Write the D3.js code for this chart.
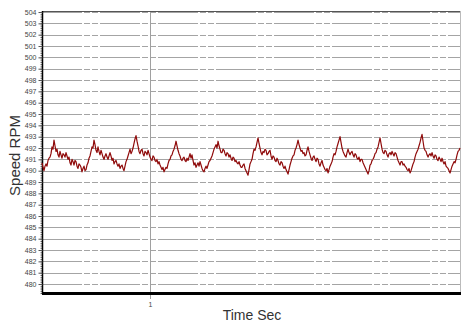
<!DOCTYPE html>
<html>
<head>
<meta charset="utf-8">
<script src="https://cdn.jsdelivr.net/npm/d3@7"></script>
<style>
  html, body { margin: 0; padding: 0; background: #fff; }
  svg { display: block; font-family: "Liberation Sans", Arial, sans-serif; }
</style>
</head>
<body>
<div id="chart"></div>
<script>
// speed samples, one every 1/108 s
const speedRpm = [
  490.7, 490.3, 490.0, 490.4, 490.6, 490.4, 490.9, 491.1, 491.2, 491.5, 492.1, 491.9, 492.7, 492.2, 491.7, 491.9, 491.4, 491.2, 491.7, 491.4,
  491.1, 491.5, 491.4, 491.2, 491.6, 491.3, 491.0, 491.2, 490.7, 490.5, 491.0, 490.8, 490.5, 490.9, 490.8, 490.4, 490.2, 490.6, 490.5, 490.3,
  489.9, 490.2, 490.4, 490.0, 490.1, 490.5, 490.7, 491.1, 491.3, 491.7, 492.1, 492.0, 492.7, 492.3, 491.8, 491.6, 492.1, 491.7, 491.4, 491.8,
  491.5, 491.2, 491.0, 491.3, 491.5, 491.2, 491.0, 491.3, 491.6, 491.3, 490.9, 491.1, 490.6, 490.8, 490.9, 490.6, 490.4, 490.6, 490.2, 490.4,
  490.5, 490.2, 490.0, 490.4, 490.8, 491.0, 491.3, 491.6, 491.9, 491.5, 491.7, 492.0, 492.4, 492.8, 493.1, 492.6, 492.2, 491.7, 491.5, 491.8,
  491.9, 491.5, 491.3, 491.7, 491.6, 491.4, 491.8, 491.5, 491.2, 491.0, 490.9, 491.3, 491.2, 490.9, 490.8, 491.0, 490.6, 490.8, 490.5, 490.3,
  490.1, 490.3, 489.9, 490.1, 490.3, 490.2, 490.6, 490.9, 491.0, 491.3, 491.4, 491.7, 491.9, 492.2, 492.6, 492.2, 491.8, 491.5, 491.3, 491.0,
  490.9, 491.1, 491.2, 490.9, 490.8, 491.1, 490.9, 491.2, 491.5, 491.1, 491.4, 490.9, 490.5, 490.7, 490.3, 490.5, 490.7, 490.4, 490.8, 490.5,
  490.2, 490.0, 489.9, 490.2, 490.4, 490.2, 490.5, 490.8, 490.9, 491.1, 491.3, 491.6, 491.9, 492.1, 492.3, 492.0, 492.6, 492.2, 491.9, 491.6,
  491.6, 491.9, 491.8, 491.5, 491.3, 491.6, 491.5, 491.2, 491.4, 491.1, 490.9, 491.2, 491.1, 490.8, 490.9, 490.7, 490.6, 490.8, 490.5, 490.3,
  490.3, 490.5, 490.6, 490.2, 490.0, 489.8, 489.6, 490.1, 490.6, 490.8, 491.0, 491.5, 491.9, 491.8, 492.1, 492.5, 492.9, 492.4, 492.0, 491.6,
  491.4, 491.7, 491.6, 491.9, 491.8, 491.4, 491.5, 491.7, 491.8, 491.3, 491.0, 491.3, 491.2, 490.9, 490.8, 491.1, 490.9, 490.6, 490.5, 490.8,
  490.7, 490.4, 490.2, 490.4, 490.1, 489.9, 489.7, 490.1, 490.5, 490.8, 491.1, 491.3, 491.4, 491.8, 492.0, 492.3, 492.7, 492.3, 492.0, 491.7,
  491.8, 491.5, 491.6, 491.3, 491.4, 491.8, 492.1, 491.7, 491.4, 491.1, 490.9, 491.2, 491.3, 491.0, 490.8, 491.1, 491.0, 490.6, 490.4, 490.7,
  490.9, 490.5, 490.3, 490.1, 490.0, 490.2, 489.8, 490.1, 490.4, 490.6, 490.8, 491.2, 491.5, 491.4, 491.7, 492.1, 492.4, 492.7, 493.0, 492.5,
  492.0, 491.7, 491.5, 491.3, 491.2, 491.6, 491.9, 491.6, 491.4, 491.6, 491.7, 491.4, 491.2, 491.5, 491.4, 491.1, 491.0, 491.2, 490.8, 491.0,
  491.0, 490.7, 490.5, 490.3, 490.1, 489.9, 489.7, 490.0, 490.5, 490.6, 490.9, 491.0, 491.2, 491.5, 491.6, 491.9, 492.1, 492.5, 492.9, 492.4,
  491.9, 491.6, 491.5, 491.8, 491.7, 491.4, 491.2, 491.5, 491.6, 491.4, 491.7, 491.5, 491.3, 491.6, 491.5, 491.2, 490.9, 490.7, 490.5, 490.8,
  490.8, 490.5, 490.6, 490.4, 490.3, 490.1, 490.0, 490.2, 489.8, 490.0, 490.3, 490.6, 490.8, 491.2, 491.5, 491.7, 491.9, 492.2, 492.5, 492.9,
  493.2, 492.6, 492.0, 491.8, 491.7, 491.4, 491.2, 491.4, 491.5, 491.3, 491.6, 491.3, 491.1, 491.4, 491.3, 491.0, 490.9, 491.2, 491.0, 490.8,
  491.1, 490.8, 490.6, 490.8, 490.4, 490.3, 490.2, 490.0, 489.8, 490.1, 490.4, 490.6, 490.8, 490.7, 491.0, 491.4, 491.7, 491.8, 492.0
];
const sampleInterval = 1 / 108;
const timeRange = [0, 3.87];
const speedRange = [479.12, 504.09];
const speedTicks = d3.range(480, 505, 1);
const speedMinorTicks = d3.range(479.2, 504.1, 0.2);
const timeTicks = [1];

const width = 461, height = 322;
const plotLeft = 42, plotRight = 460, plotTop = 11, plotBottom = 294;

const svg = d3.select('#chart').append('svg')
  .attr('width', width)
  .attr('height', height);

const x = d3.scaleLinear().domain(timeRange).range([plotLeft, plotRight]);
const y = d3.scaleLinear().domain(speedRange).range([plotBottom, plotTop]);

// horizontal grid
svg.append('g')
  .selectAll('line')
  .data(speedTicks)
  .enter().append('line')
  .attr('x1', plotLeft).attr('x2', plotRight)
  .attr('y1', d => Math.round(y(d)) + 0.5)
  .attr('y2', d => Math.round(y(d)) + 0.5)
  .attr('stroke', '#a4a4a4')
  .attr('stroke-width', 1)
  .attr('stroke-dasharray', '40,2,6,2,6,2');

// vertical grid
svg.append('g')
  .selectAll('line')
  .data(timeTicks)
  .enter().append('line')
  .attr('x1', d => Math.round(x(d)) + 0.5)
  .attr('x2', d => Math.round(x(d)) + 0.5)
  .attr('y1', plotTop).attr('y2', plotBottom + 5)
  .attr('stroke', '#a0a0a0');

// frame: top and right edges
svg.append('line')
  .attr('x1', plotLeft).attr('x2', plotRight)
  .attr('y1', plotTop + 0.5).attr('y2', plotTop + 0.5)
  .attr('stroke', '#555');
svg.append('line')
  .attr('x1', plotRight + 0.5).attr('x2', plotRight + 0.5)
  .attr('y1', plotTop).attr('y2', plotBottom)
  .attr('stroke', '#bbb');

// y axis with minor ticks
const yMinor = d3.axisLeft(y)
  .tickValues(speedMinorTicks)
  .tickSize(2)
  .tickFormat('');
svg.append('g')
  .attr('transform', `translate(${plotLeft + 0.5},0)`)
  .call(yMinor)
  .call(g => g.select('.domain').remove())
  .call(g => g.selectAll('line').attr('stroke', '#666'));

const yAxis = d3.axisLeft(y)
  .tickValues(speedTicks)
  .tickSize(4)
  .tickPadding(2)
  .tickFormat(d3.format('d'));
svg.append('g')
  .attr('transform', `translate(${plotLeft + 0.5},0)`)
  .call(yAxis)
  .call(g => g.select('.domain').attr('d', `M0,${plotTop}V${plotBottom}`).attr('stroke', '#000').attr('stroke-width', 1.5))
  .call(g => g.selectAll('line').attr('stroke', '#555'))
  .call(g => g.selectAll('text')
    .attr('font-size', 7)
    .attr('fill', '#444'));

// x axis
const xAxis = d3.axisBottom(x)
  .tickValues(timeTicks)
  .tickSize(0)
  .tickPadding(8)
  .tickFormat(d3.format('d'));
svg.append('g')
  .attr('transform', `translate(0,${plotBottom})`)
  .call(xAxis)
  .call(g => g.select('.domain').remove())
  .call(g => g.selectAll('text')
    .attr('font-size', 7)
    .attr('fill', '#444'));

svg.append('line')
  .attr('x1', plotLeft).attr('x2', plotRight + 1)
  .attr('y1', plotBottom - 0.5).attr('y2', plotBottom - 0.5)
  .attr('stroke', '#000')
  .attr('stroke-width', 3);

// speed trace
const line = d3.line()
  .x((d, i) => x(i * sampleInterval))
  .y(d => y(d));

svg.append('path')
  .datum(speedRpm)
  .attr('fill', 'none')
  .attr('stroke', '#8f0a0a')
  .attr('stroke-width', 1.2)
  .attr('stroke-linejoin', 'round')
  .attr('d', line);

// axis titles
svg.append('text')
  .attr('transform', `translate(20,${(plotTop + plotBottom) / 2 + 3}) rotate(-90)`)
  .attr('text-anchor', 'middle')
  .attr('font-size', 15)
  .attr('fill', '#333')
  .text('Speed RPM');

svg.append('text')
  .attr('x', 252)
  .attr('y', 320)
  .attr('text-anchor', 'middle')
  .attr('font-size', 14)
  .attr('fill', '#333')
  .text('Time Sec');
</script>
</body>
</html>
